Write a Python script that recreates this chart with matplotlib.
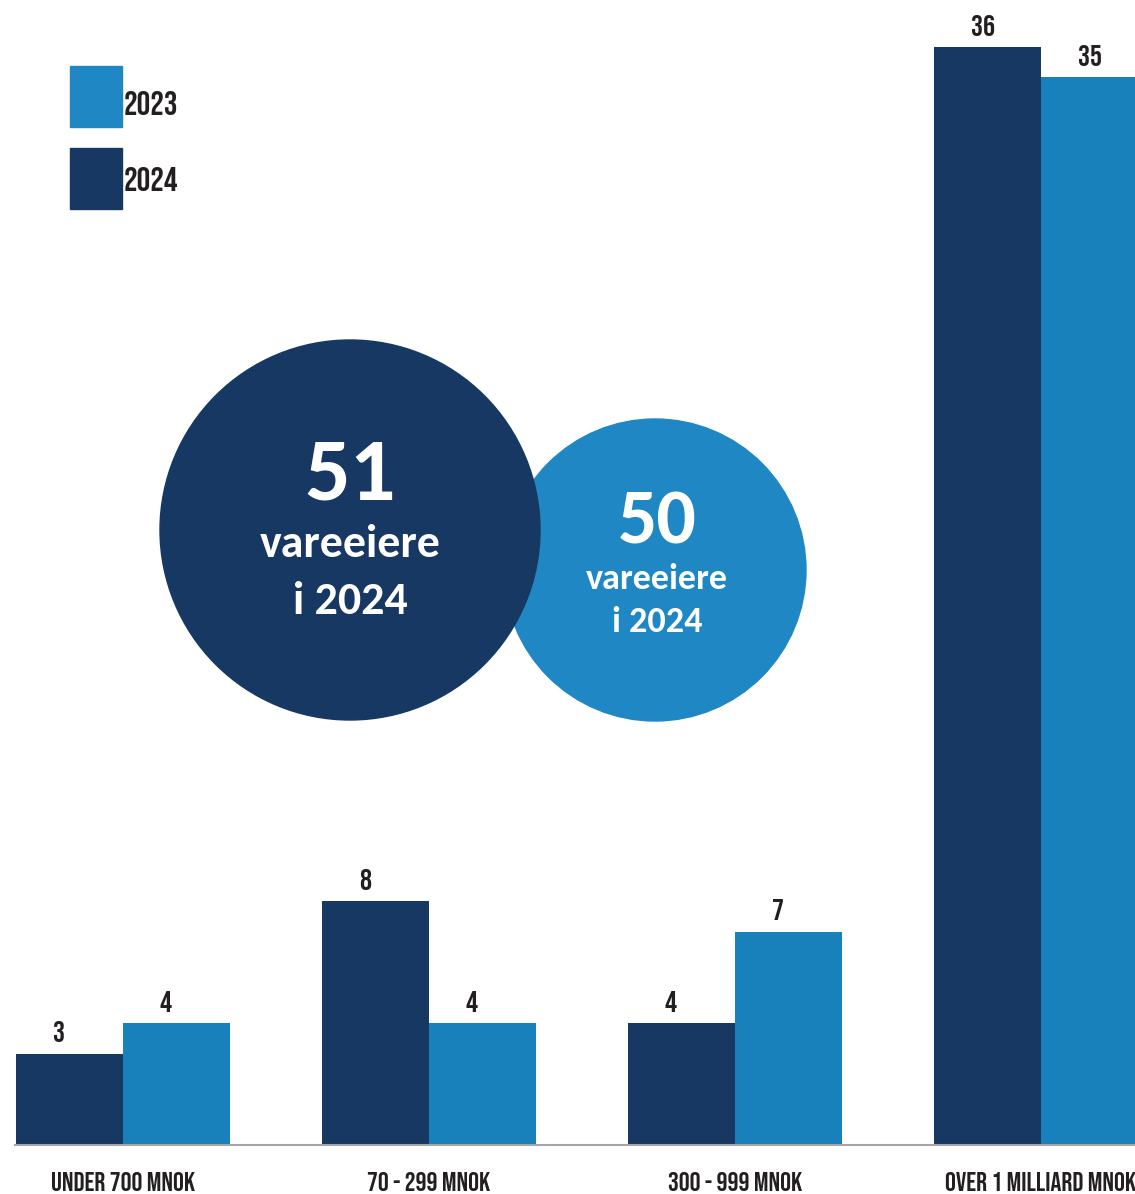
import matplotlib.pyplot as plt
from matplotlib import font_manager as fm
from matplotlib.patches import Circle, Rectangle

# Antall vareeiere per omsetningsgruppe
categories = ['UNDER 700 MNOK', '70 - 299 MNOK', '300 - 999 MNOK', 'OVER 1 MILLIARD MNOK']
values_2024 = [3, 8, 4, 36]
values_2023 = [4, 4, 7, 35]
legend_labels = ['2023', '2024']
total_2024 = 51
total_2023 = 50
circle_caption = ['vareeiere', 'i 2024']

dark = '#163862'
light = '#1880bb'
light_circle = '#1e87c4'
text_col = '#231f20'

installed = {f.name for f in fm.fontManager.ttflist}


def pick(candidates):
    found = [c for c in candidates if c in installed]
    return found[:1] + ['DejaVu Sans']


narrow = pick(['Bebas Neue', 'Oswald', 'Roboto Condensed', 'Liberation Sans Narrow'])
round_font = pick(['Carlito', 'Open Sans'])
if round_font[0] == 'Carlito':
    sz = {'big': 65, 'cap': 33, 'small_big': 56, 'small_cap': 26}
else:
    sz = {'big': 61, 'cap': 28, 'small_big': 51, 'small_cap': 22}

W, H = 1135, 1194
fig = plt.figure(figsize=(W / 100, H / 100), dpi=100)

# bar axes: left edge at 15 px, baseline at 1145 px from top
ax = fig.add_axes([15 / W, (H - 1145) / H, 1 - 15 / W, 1145 / H])
x = list(range(len(categories)))
bw = 0.35
b24 = ax.bar([i - bw / 2 for i in x], values_2024, width=bw, color=dark)
b23 = ax.bar([i + bw / 2 for i in x], values_2023, width=bw, color=light)

# value labels sit a fixed distance in from the left edge of each bar
for bars, vals in [(b24, values_2024), (b23, values_2023)]:
    for rect, v in zip(bars, vals):
        ax.annotate(str(v), (rect.get_x(), v),
                    xytext=(26.5, 8), textcoords='offset points',
                    ha='left', va='baseline', fontsize=21.5, fontweight='bold',
                    family=narrow, color=text_col, annotation_clip=False)

# category names under the baseline
for i, c in zip(x, categories):
    ax.annotate(c, (i, 0), xytext=(0, -33), textcoords='offset points',
                ha='center', va='baseline', fontsize=19.5, fontweight='bold',
                family=narrow, color=text_col, annotation_clip=False)

ax.set_xlim(-108 / 306, (W - 123) / 306)
ax.set_ylim(0, 1145 / 30.5)
ax.set_xticks([])
ax.set_yticks([])
for s in ['top', 'left', 'right']:
    ax.spines[s].set_visible(False)
ax.spines['bottom'].set_color('#a6a6a6')
ax.spines['bottom'].set_linewidth(1.5)
ax.patch.set_alpha(0)

# overlay in pixel units for legend and the two total circles
ov = fig.add_axes([0, 0, 1, 1])
ov.set_xlim(0, W)
ov.set_ylim(H, 0)
ov.axis('off')

legend_tops = [66, 148]
legend_baselines = [115, 191]
for lab, col, top, base in zip(legend_labels, [light_circle, dark], legend_tops, legend_baselines):
    ov.add_patch(Rectangle((70, top), 52, 61, color=col))
    ov.text(124, base, lab, ha='left', va='baseline', fontsize=24.5,
            fontweight='bold', family=narrow, color=text_col)

ov.add_patch(Circle((655, 570), 151, color=light_circle, zorder=1))
ov.add_patch(Circle((350, 530), 190, color=dark, zorder=2))

ov.text(350, 500, str(total_2024), color='white', fontsize=sz['big'], fontweight='bold',
        family=round_font, ha='center', va='baseline', zorder=3)
ov.text(350, 557, circle_caption[0], color='white', fontsize=sz['cap'], fontweight='bold',
        family=round_font, ha='center', va='baseline', zorder=3)
ov.text(350, 614, circle_caption[1], color='white', fontsize=sz['cap'], fontweight='bold',
        family=round_font, ha='center', va='baseline', zorder=3)

ov.text(657, 543, str(total_2023), color='white', fontsize=sz['small_big'], fontweight='bold',
        family=round_font, ha='center', va='baseline', zorder=3)
ov.text(657, 589, circle_caption[0], color='white', fontsize=sz['small_cap'], fontweight='bold',
        family=round_font, ha='center', va='baseline', zorder=3)
ov.text(657, 632, circle_caption[1], color='white', fontsize=sz['small_cap'], fontweight='bold',
        family=round_font, ha='center', va='baseline', zorder=3)

fig.savefig('out.png', dpi=100)
